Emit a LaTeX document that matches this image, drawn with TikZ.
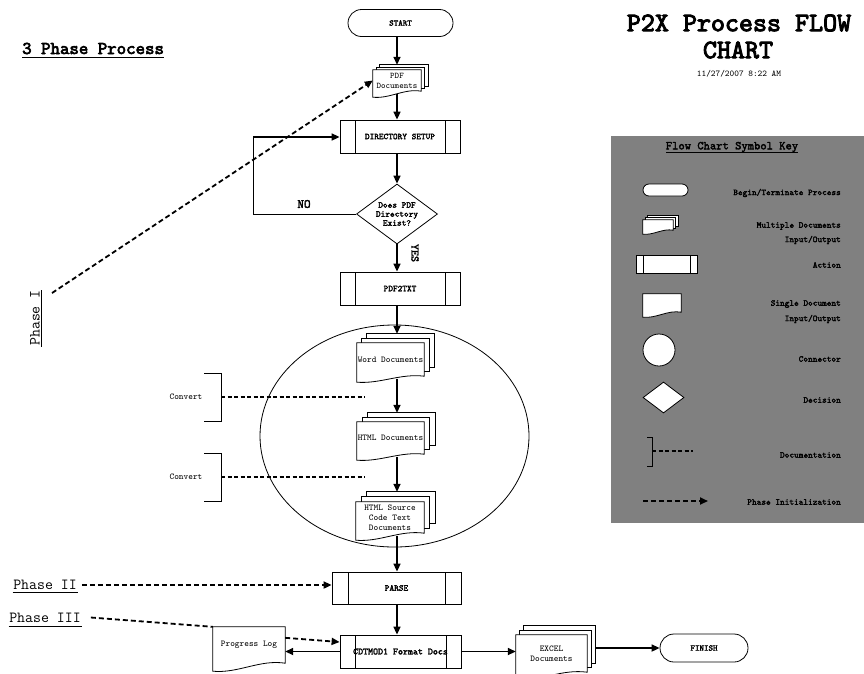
\documentclass[tikz,border=0pt]{standalone}
\usepackage{fontspec}
\renewcommand{\familydefault}{\ttdefault}
\newfontfamily\mybold[FakeBold=2.4]{lmmono10-regular.otf}
\newfontfamily\myheavy[FakeBold=3.5]{lmmono10-regular.otf}
\usetikzlibrary{shapes.geometric,shapes.misc,arrows.meta,calc}
\pgfdeclarelayer{back}
\pgfdeclarelayer{shp}
\pgfsetlayers{back,shp,main}
\definecolor{keygray}{HTML}{808080}
\newcommand{\drawdoc}[2]{%
  \begin{pgfonlayer}{shp}
  \draw[shpline] (#1.north west) -- (#1.north east) -- (#1.south east)
    .. controls ($(#1.south west)!0.65!(#1.south east)+(0,-0.5*#2)$) and ($(#1.south west)!0.35!(#1.south east)+(0,1.3*#2)$) .. ($(#1.south west)+(0,#2)$) -- cycle;
  \end{pgfonlayer}}
\newcommand{\drawmulti}[4]{%
  \begin{pgfonlayer}{shp}
  \draw[shpline] ($(#1.north west)+(2*#3,-2*#4)$) rectangle ($(#1.south east)+(2*#3,-2*#4)$);
  \draw[shpline] ($(#1.north west)+(#3,-#4)$) rectangle ($(#1.south east)+(#3,-#4)$);
  \end{pgfonlayer}%
  \drawdoc{#1}{#2}}
\begin{document}
\begin{tikzpicture}[x=1pt,y=-1pt,
  shpline/.style={draw=black,fill=white,line width=0.8pt},
  txt/.style={inner sep=0pt,align=center,font=\ttfamily\fontsize{8.9}{10}\selectfont},
  btxt/.style={inner sep=0pt,align=center,font=\mybold\fontsize{8.9}{9}\selectfont},
  term/.style={shape=rounded rectangle,draw,fill=white,line width=0.8pt,inner sep=0pt,font=\mybold\fontsize{8.6}{9}\selectfont},
  actionbox/.style={draw,fill=white,line width=0.8pt,inner sep=0pt,font=\mybold\fontsize{8.9}{10}\selectfont,
    path picture={\draw[line width=0.8pt] ([xshift=#1]path picture bounding box.north west) -- ([xshift=#1]path picture bounding box.south west);
                  \draw[line width=0.8pt] ([xshift=-#1]path picture bounding box.north east) -- ([xshift=-#1]path picture bounding box.south east);}},
  lab/.style={inner sep=0pt,anchor=east,font=\mybold\fontsize{8.9}{10}\selectfont},
  phase/.style={inner sep=0pt,font=\ttfamily\fontsize{15.4}{17}\selectfont},
  arr/.style={line width=1.6pt,-{Triangle[length=8pt,width=7pt]}},
  thinl/.style={line width=0.8pt},
  dashl/.style={line width=1.6pt,dash pattern=on 4pt off 2.5pt},
  dasharr/.style={line width=1.8pt,dash pattern=on 5pt off 3pt,-{Triangle[length=8pt,width=7pt]}},
  dashph/.style={line width=1.8pt,dash pattern=on 5pt off 3pt}]
\useasboundingbox (0,0) rectangle (864,673);

% titles
\node[inner sep=0pt,font=\myheavy\fontsize{26.7}{28}\selectfont] (t1) at (739,23) {P2X Process FLOW};
\node[inner sep=0pt,font=\myheavy\fontsize{26.7}{28}\selectfont] (t2) at (738,50) {CHART};
\node[txt] (date) at (739,74) {11/27/2007 8:22 AM};
\node[inner sep=0pt,anchor=base west,font=\myheavy\fontsize{18}{20}\selectfont] (threep) at (22,54) {3 Phase Process};
\draw[line width=1.5pt] (22,57.5) -- (164,57.5);

% legend
\begin{pgfonlayer}{back}
\fill[keygray] (611,136) rectangle (864,523);
\end{pgfonlayer}
\node[inner sep=0pt,font=\mybold\fontsize{12}{13}\selectfont] (keyt) at (732,147) {Flow Chart Symbol Key};
\draw[thinl] (666,152.5) -- (798,152.5);
\node[term,minimum width=45pt,minimum height=12pt] (kterm) at (665.5,190) {};
\node[lab] (l1) at (841,193) {Begin/Terminate Process};
\node[inner sep=0pt,minimum width=30pt,minimum height=10pt] (kmulti) at (658,225) {};
\drawmulti{kmulti}{4}{2.5}{2}
\node[lab] (l2) at (841,226) {Multiple Documents};
\node[lab] (l2b) at (841,240) {Input/Output};
\node[actionbox=7pt,minimum width=61pt,minimum height=18pt] (kact) at (666.5,264) {};
\node[lab] (l3) at (841,265) {Action};
\node[inner sep=0pt,minimum width=38pt,minimum height=18pt] (ksingle) at (662,303) {};
\drawdoc{ksingle}{5}
\node[lab] (l4) at (841,304) {Single Document};
\node[lab] (l4b) at (841,319) {Input/Output};
\node[circle,draw,fill=white,line width=0.8pt,minimum size=32pt,inner sep=0pt] (kconn) at (659,350) {};
\node[lab] (l5) at (841,359) {Connector};
\node[diamond,draw,fill=white,line width=0.8pt,minimum width=41pt,minimum height=31pt,inner sep=0pt] (kdec) at (663.5,397.5) {};
\node[lab] (l6) at (841,400) {Decision};
\draw[thinl] (647,437) -- (652,437) -- (652,466) -- (647,466);
\coordinate (kd1) at (652,451);
\coordinate (kd2) at (693,451);
\draw[dashl] (kd1) -- (kd2);
\node[lab] (l7) at (841,455) {Documentation};
\coordinate (kp1) at (643,501);
\coordinate (kp2) at (708,501);
\draw[dasharr] (kp1) -- (kp2);
\node[lab] (l8) at (841,502) {Phase Initialization};

% group ellipse
\node[ellipse,draw,line width=0.8pt,minimum width=269pt,minimum height=222pt,inner sep=0pt] (grp) at (394.5,436) {};

% main flow
\coordinate (col) at (397,0);
\node[term,minimum width=105pt,minimum height=27pt] (start) at (400.5,23) {START};
\node[txt,minimum width=48pt,minimum height=21pt,font=\ttfamily\fontsize{8.6}{10}\selectfont] (pdf) at (397,80.5) {PDF\\Documents};
\drawmulti{pdf}{6}{3.5}{2.5}
\node[actionbox=15pt,minimum width=120pt,minimum height=33pt] (ds) at (400,136.5) {DIRECTORY SETUP};
\node[diamond,draw,fill=white,line width=0.8pt,minimum width=81pt,minimum height=60pt,inner sep=0pt,aspect=1.35,btxt] (dec) at (397,214) {Does PDF\\Directory\\Exist?};
\node[actionbox=15pt,minimum width=120pt,minimum height=33pt] (p2t) at (400,288.5) {PDF2TXT};
\node[txt,minimum width=67pt,minimum height=33pt] (word) at (390.5,359.5) {Word Documents};
\drawmulti{word}{6}{5}{4.5}
\node[txt,minimum width=67pt,minimum height=32pt] (html) at (390.5,438) {HTML Documents};
\drawmulti{html}{6}{5.5}{4.5}
\node[txt,minimum width=68pt,minimum height=31pt] (src) at (390,517.5) {HTML Source\\Code Text\\Documents};
\drawmulti{src}{7}{5.5}{5}
\node[actionbox=16pt,minimum width=129pt,minimum height=32pt] (parse) at (396.5,588) {PARSE};
\node[actionbox=15pt,minimum width=121pt,minimum height=33pt,font=\mybold\fontsize{9.5}{10}\selectfont] (cdt) at (400.5,651.5) {CDTMOD1 Format Docs};
\node[txt,minimum width=72pt,minimum height=36pt] (log) at (249,645) {Progress Log};
\drawdoc{log}{8}
\node[txt,minimum width=71pt,minimum height=37pt] (excel) at (551.5,653.5) {EXCEL\\Documents};
\drawmulti{excel}{7}{4}{4.5}
\node[term,minimum width=88pt,minimum height=28pt] (finish) at (704,648) {FINISH};

% labels
\node[inner sep=0pt,font=\mybold\fontsize{12.6}{14}\selectfont] (no) at (304,204) {NO};
\node[inner sep=0pt,rotate=-90,font=\mybold\fontsize{11.4}{12}\selectfont] (yes) at (415,253) {YES};

% connector helper points
\coordinate (pdftop) at ($(pdf.north)+(0,-5)$);
\coordinate (pdfbot) at ($(pdf.south)+(0,2.5)$);
\coordinate (wordtop) at ($(word.north)+(0,-9)$);
\coordinate (wordbot) at ($(word.south)+(0,2.5)$);
\coordinate (htmltop) at ($(html.north)+(0,-9)$);
\coordinate (htmlbot) at ($(html.south)+(0,2.5)$);
\coordinate (srctop) at ($(src.north)+(0,-10)$);
\coordinate (srcbot) at ($(src.south)+(0,3)$);
\coordinate (exr) at ($(excel.east)+(8,0)$);
\coordinate (nl) at (253,137);

% main arrows
\draw[arr] (start.south -| col) -- (pdftop -| col);
\draw[arr] (pdfbot -| col) -- (ds.north -| col);
\draw[arr] (ds.south -| col) -- (dec.north);
\draw[arr] (dec.south) -- (dec.south |- p2t.north);
\draw[arr] (p2t.south -| col) -- (wordtop -| col);
\draw[arr] (wordbot -| col) -- (htmltop -| col);
\draw[arr] (htmlbot -| col) -- (srctop -| col);
\draw[arr] (srcbot -| col) -- (parse.north -| col);
\draw[arr] (parse.south -| col) -- (cdt.north -| col);
\draw[arr] (cdt.west) -- (log.east |- cdt.west);
\draw[arr] (cdt.east) -- (excel.west |- cdt.east);
\draw[arr] (exr |- finish.west) -- (finish.west);
\draw[thinl] (dec.west) -| (nl);
\draw[arr] (nl) -- (ds.west |- nl);

% convert brackets
\node[txt] (conv1) at (186,397) {Convert};
\node[txt] (conv2) at (186,477) {Convert};
\draw[thinl] (204,373) -- (221,373) -- (221,421) -- (204,421);
\draw[thinl] (204,453) -- (221,453) -- (221,501) -- (204,501);
\coordinate (c1a) at (221,397);
\coordinate (c1b) at (365,397);
\coordinate (c2a) at (221,477);
\coordinate (c2b) at (365,477);
\draw[dashl] (c1a) -- (c1b);
\draw[dashl] (c2a) -- (c2b);

% phases
\node[phase,rotate=90] (ph1) at (35,318) {Phase I};
\draw[thinl] (41,290) -- (41,347);
\coordinate (ph1s) at (52,293);
\draw[dasharr] (ph1s) -- (pdf.west);
\node[phase] (ph2) at (45,585) {Phase II};
\draw[thinl] (12.5,592) -- (78,592);
\draw[dasharr] ([xshift=5pt]ph2.east) -- (ph2.east -| parse.west);
\node[phase] (ph3) at (45,617.5) {Phase III};
\draw[thinl] (8.5,626.5) -- (82,626.5);
\draw[dashph] ([xshift=10pt]ph3.east) -- (log.north west);
\coordinate (logout) at ($(log.north east)+(0,11)$);
\draw[dasharr] (logout) -- ($(cdt.west)+(0,-9.5)$);
\end{tikzpicture}
\end{document}
